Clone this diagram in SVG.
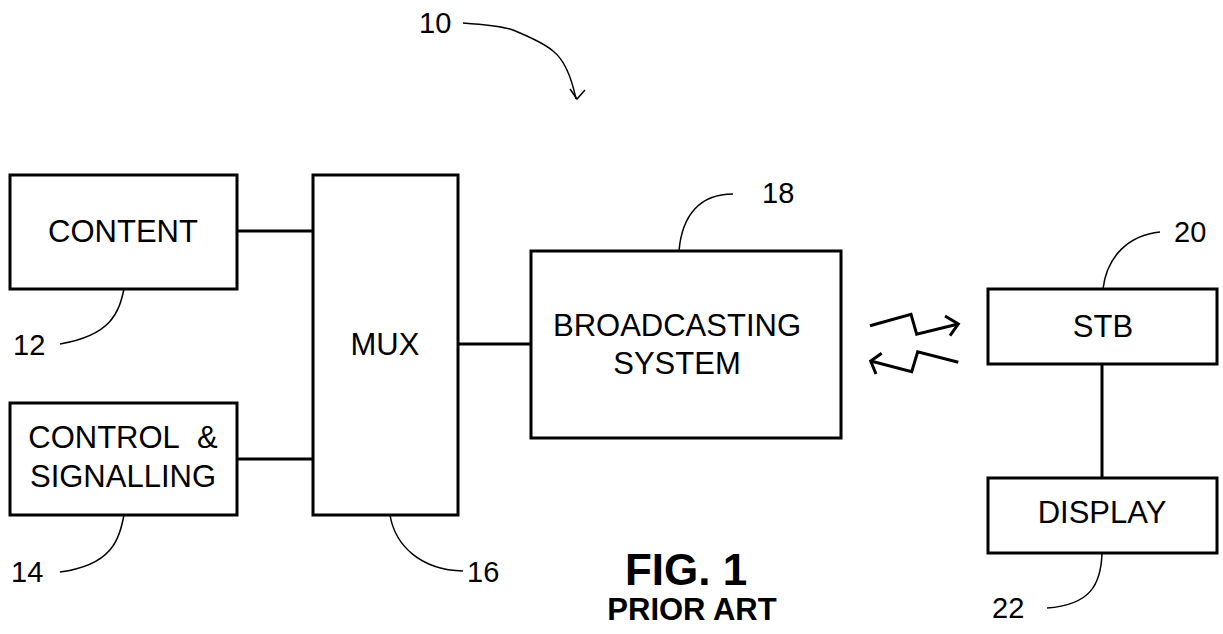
<svg xmlns="http://www.w3.org/2000/svg" width="1223" height="634" viewBox="0 0 1223 634">
<style>
.box{fill:#fff;stroke:#000;stroke-width:3}
.conn{fill:none;stroke:#000;stroke-width:3}
.lead{fill:none;stroke:#000;stroke-width:1.5}
.bolt{fill:none;stroke:#000;stroke-width:3;stroke-linejoin:miter}
.lbl{font-family:"Liberation Sans",Arial,sans-serif;font-size:31px;fill:#000;text-anchor:middle}
.num{font-family:"Liberation Sans",Arial,sans-serif;font-size:29px;fill:#000}
.fig{font-family:"Liberation Sans",Arial,sans-serif;font-weight:bold;fill:#000;text-anchor:middle}
</style>
<rect width="1223" height="634" fill="#fff"/>
<g id="connectors">
<line class="conn" x1="237" y1="231" x2="313" y2="231"/>
<line class="conn" x1="237" y1="459" x2="313" y2="459"/>
<line class="conn" x1="458" y1="344" x2="531" y2="344"/>
<line class="conn" x1="1102" y1="364" x2="1102" y2="478"/>
<polyline class="bolt" points="870,325.7 911,314.3 916.7,334.3 958.3,324"/>
<polyline class="bolt" points="945,316 958.3,324 950,335.7"/>
<polyline class="bolt" points="958.3,362.3 917.7,351.7 911.7,371.7 870.7,361"/>
<polyline class="bolt" points="881.7,353.3 870.7,361 876,374"/>
</g>
<g id="ref10">
<text class="num" x="419" y="33">10</text>
<path class="lead" d="M463,23 C490,25 505,27 513,30 C530,37 545,44 553,51 C562,58 570,70 576,99"/>
<polyline class="lead" points="570,89 577,99 585,90"/>
</g>
<g id="content">
<rect class="box" x="10" y="175" width="227" height="114"/>
<text class="lbl" x="123" y="242">CONTENT</text>
<path class="lead" d="M124,289 C119,312 112,335 60,344"/>
<text class="num" x="13" y="355">12</text>
</g>
<g id="control">
<rect class="box" x="10" y="403" width="227" height="112"/>
<text class="lbl" x="123" y="448">CONTROL&#160; &amp;</text>
<text class="lbl" x="123" y="487">SIGNALLING</text>
<path class="lead" d="M124,515 C119,540 112,565 60,572"/>
<text class="num" x="11" y="582">14</text>
</g>
<g id="mux">
<rect class="box" x="313" y="175" width="145" height="340"/>
<text class="lbl" x="385" y="355">MUX</text>
<path class="lead" d="M390,515 C395,545 420,570 463,571"/>
<text class="num" x="467" y="582">16</text>
</g>
<g id="broadcast">
<rect class="box" x="531" y="251" width="310" height="187"/>
<text class="lbl" x="677" y="336">BROADCASTING</text>
<text class="lbl" x="677" y="374">SYSTEM</text>
<path class="lead" d="M679,251 C682,215 700,194 733,194"/>
<text class="num" x="762" y="203">18</text>
</g>
<g id="stb">
<rect class="box" x="988" y="289" width="229" height="75"/>
<text class="lbl" x="1103" y="337">STB</text>
<path class="lead" d="M1103,289 C1107,255 1130,235 1160,232"/>
<text class="num" x="1174" y="242">20</text>
</g>
<g id="display">
<rect class="box" x="988" y="478" width="229" height="75"/>
<text class="lbl" x="1102" y="523">DISPLAY</text>
<path class="lead" d="M1102,553 C1101,585 1090,605 1047,608"/>
<text class="num" x="992" y="618">22</text>
</g>
<g id="caption">
<text class="fig" x="686" y="585" font-size="44">FIG. 1</text>
<text class="fig" x="692" y="620" font-size="31">PRIOR ART</text>
</g>
</svg>
